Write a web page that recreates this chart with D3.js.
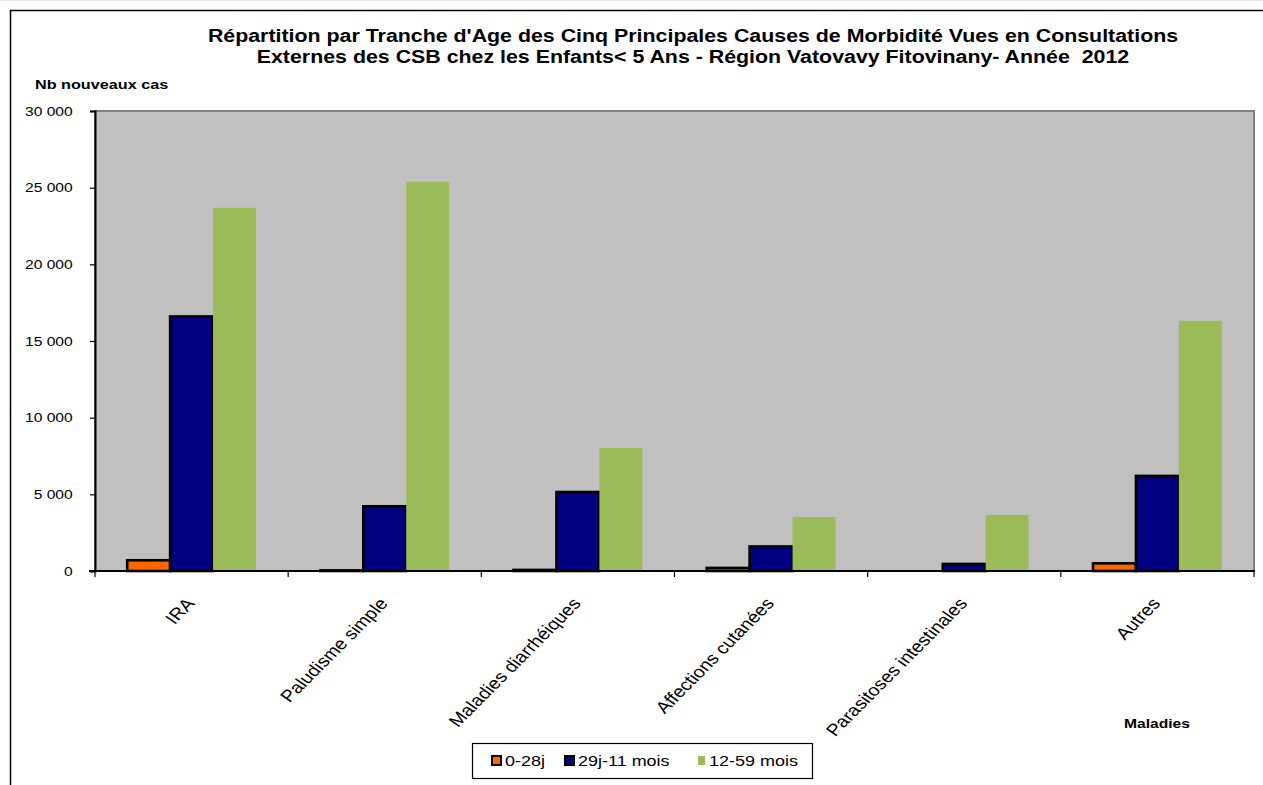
<!DOCTYPE html>
<html><head><meta charset="utf-8">
<script src="https://cdn.jsdelivr.net/npm/d3@7/dist/d3.min.js"></script>
<style>body{margin:0;background:#fff;overflow:hidden}svg{display:block;font-family:"Liberation Sans",Arial,sans-serif}</style>
</head><body>
<svg id="c" width="1263" height="785"></svg>
<script>
const categories = ["IRA","Paludisme simple","Maladies diarrhéiques","Affections cutanées","Parasitoses intestinales","Autres"];
const seriesNames = ["0-28j","29j-11 mois","12-59 mois"];
const s0_28j   = [700, 40, 70, 200, 0, 500];
const s29j_11m = [16600, 4220, 5150, 1600, 460, 6200];
const s12_59m  = [23680, 25380, 8020, 3520, 3650, 16310];
const yTicks = [0,5000,10000,15000,20000,25000,30000];
const titleLines = ["Répartition par Tranche d'Age des Cinq Principales Causes de Morbidité Vues en Consultations",
                    "Externes des CSB chez les Enfants< 5 Ans - Région Vatovavy Fitovinany- Année  2012"];

const colors = ["#FF6600","#000080","#9BBB59"];
const outlined = [true,true,false];
const series = [s0_28j, s29j_11m, s12_59m];
const SX = 1.2;

const svg = d3.select("#c");
const L = 95, R = 1254, T = 111, B = 571;

// outer frame
svg.append("line").attr("x1",0).attr("x2",1263).attr("y1",0.5).attr("y2",0.5).attr("stroke","#e6e6e6");
svg.append("rect").attr("x",10.5).attr("y",10.5).attr("width",1400).attr("height",1000)
  .attr("fill","none").attr("stroke","#000").attr("stroke-width",1.5);

function stext(x,y,txt,size,weight,anchor){
  return svg.append("text").attr("transform",`translate(${x},${y}) scale(${SX},1)`)
    .attr("font-size",size).attr("font-weight",weight||"normal").attr("text-anchor",anchor||"start")
    .attr("fill","#000").attr("xml:space","preserve").style("white-space","pre").text(txt);
}

// title
stext(693,42,titleLines[0],17.8,"bold","middle");
stext(693,63,titleLines[1],17.8,"bold","middle");
stext(35,89,"Nb nouveaux cas",13.5,"bold","start");
stext(1124,728,"Maladies",13,"bold","start");

const x = d3.scaleBand().domain(categories).range([L,R]).paddingInner(0).paddingOuter(0);
const bw = x.bandwidth()/4.5;
const x1 = d3.scaleBand().domain(seriesNames).range([0.75*bw, 3.75*bw]);
const y = d3.scaleLinear().domain([0,30000]).range([B,T]);

// plot area
svg.append("rect").attr("x",L).attr("y",T).attr("width",R-L).attr("height",B-T)
  .attr("fill","#C0C0C0").attr("stroke","#808080").attr("stroke-width",2);

// bars
series.forEach((vals,si)=>{
  svg.append("g").selectAll("rect").data(vals).join("rect")
    .attr("x",(d,i)=>x(categories[i])+x1(seriesNames[si]))
    .attr("width",x1.bandwidth())
    .attr("y",d=>y(d))
    .attr("height",d=>B-y(d))
    .attr("fill",colors[si])
    .attr("stroke",outlined[si]?"#000":"none")
    .attr("stroke-width",2.6);
});

// y axis
const yAxis = d3.axisLeft(y).tickValues(yTicks).tickSize(5);
const gy = svg.append("g").attr("transform",`translate(${L},0)`).call(yAxis);
gy.select(".domain").attr("stroke","#000").attr("stroke-width",2);
gy.selectAll(".tick line").attr("stroke","#000").attr("stroke-width",1.2);
gy.selectAll(".tick text").remove();
yTicks.forEach(t=>{ stext(72.7, y(t)+4.7, d3.format(",")(t).replace(/,/g," "), 13, "normal","end"); });

// x axis with boundary ticks
const gx = svg.append("g");
gx.append("line").attr("x1",L-6).attr("x2",R+1).attr("y1",B).attr("y2",B).attr("stroke","#000").attr("stroke-width",2);
const bounds = categories.map(c=>x(c)).concat([R]);
gx.selectAll("line.t").data(bounds).join("line").attr("class","t")
  .attr("x1",d=>d).attr("x2",d=>d).attr("y1",B).attr("y2",B+6).attr("stroke","#000").attr("stroke-width",1.2);
categories.forEach(c=>{
  const cx = x(c)+x.bandwidth()/2;
  svg.append("text").attr("transform",`translate(${cx+4},604) scale(${SX},1) rotate(-50.2)`)
    .attr("font-size",16.5).attr("text-anchor","end").attr("fill","#000").text(c);
});

// legend
svg.append("rect").attr("x",472.5).attr("y",743.5).attr("width",340).attr("height",35)
  .attr("fill","#fff").attr("stroke","#000").attr("stroke-width",1.2);
const legItems = [{mx:491, tx:505},{mx:564, tx:578},{mx:698, tx:709}];
legItems.forEach((it,i)=>{
  if(outlined[i]){
    svg.append("rect").attr("x",it.mx+1).attr("y",756).attr("width",9).attr("height",9)
      .attr("fill",colors[i]).attr("stroke","#000").attr("stroke-width",2);
  } else {
    svg.append("rect").attr("x",it.mx).attr("y",756).attr("width",7).attr("height",9).attr("fill",colors[i]);
  }
  stext(it.tx,766,seriesNames[i],15,"normal","start");
});
</script>
</body></html>
